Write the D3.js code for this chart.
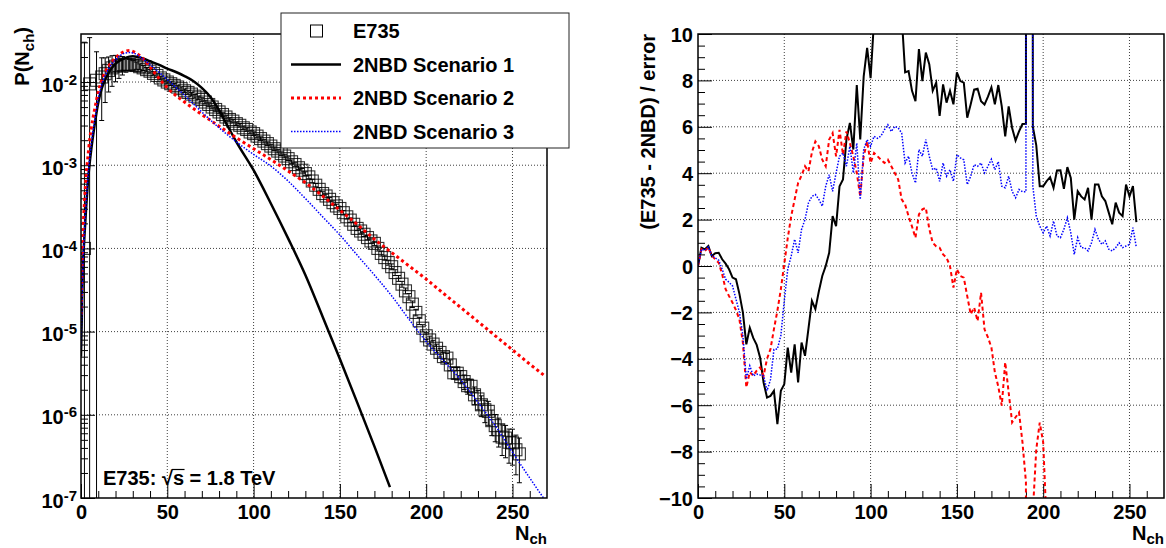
<!DOCTYPE html>
<html><head><meta charset="utf-8">
<script src="https://cdn.jsdelivr.net/npm/d3@7"></script>
<style>
html,body{margin:0;padding:0;background:#fff;}
svg{display:block;}
text{font-family:"Liberation Sans",Arial,Helvetica,sans-serif;font-weight:bold;fill:#000;}
</style></head><body>
<svg id="c" width="1166" height="548"></svg>
<script>
// ---------- Left panel: E735 data ----------
const e735N = [2,5,9,12,14,16,18,20,22,24,26,28,30,32,34,36,38,40,42,44,46,48,50,52,54,56,58,60,62,64,66,68,70,72,74,76,78,80,82,84,86,88,90,92,94,96,98,100,102,104,106,108,110,112,114,116,118,120,122,124,126,128,130,132,134,136,138,140,142,144,146,148,150,152,154,156,158,160,162,164,166,168,170,172,174,176,178,180,182,184,186,188,190,192,194,196,198,200,202,204,206,208,210,212,214,216,218,220,222,224,226,228,230,232,234,236,238,240,242,244,246,248,250,252,254];
const e735P = [
 1.0e-4, 9.5e-3, 1.05e-2, 1.15e-2, 1.26e-2, 1.38e-2, 1.48e-2, 1.55e-2, 1.58e-2, 1.62e-2,
 1.64e-2, 1.62e-2, 1.60e-2, 1.58e-2, 1.53e-2, 1.48e-2, 1.41e-2, 1.35e-2, 1.27e-2, 1.20e-2,
 1.12e-2, 1.06e-2, 1.00e-2, 9.55e-3, 9.12e-3, 8.71e-3, 8.32e-3, 7.85e-3, 7.50e-3, 7.16e-3,
 6.76e-3, 6.46e-3, 6.17e-3, 5.75e-3, 5.37e-3, 5.01e-3, 4.68e-3, 4.37e-3, 4.07e-3, 3.80e-3,
 3.55e-3, 3.39e-3, 3.16e-3, 3.02e-3, 2.82e-3, 2.69e-3, 2.51e-3, 2.40e-3, 2.24e-3, 2.09e-3,
 1.95e-3, 1.82e-3, 1.70e-3, 1.58e-3, 1.48e-3, 1.38e-3, 1.29e-3, 1.20e-3, 1.10e-3, 1.02e-3,
 9.33e-4, 8.71e-4, 7.94e-4, 7.24e-4, 6.46e-4, 5.75e-4, 5.13e-4, 4.57e-4, 4.27e-4, 3.89e-4,
 3.55e-4, 3.24e-4, 3.02e-4, 2.69e-4, 2.40e-4, 2.19e-4, 1.95e-4, 1.74e-4, 1.62e-4, 1.48e-4,
 1.35e-4, 1.23e-4, 1.15e-4, 1.00e-4, 8.71e-5, 7.76e-5, 6.76e-5, 6.03e-5, 5.13e-5, 4.37e-5,
 3.72e-5, 3.09e-5, 2.63e-5, 2.14e-5, 1.70e-5, 1.35e-5, 1.10e-5, 8.91e-6, 7.94e-6, 7.08e-6,
 6.31e-6, 5.62e-6, 5.01e-6, 4.80e-6, 3.98e-6, 3.20e-6, 3.16e-6, 2.88e-6, 2.51e-6, 2.24e-6,
 2.20e-6, 1.74e-6, 1.55e-6, 1.32e-6, 1.15e-6, 1.10e-6, 8.51e-7, 7.41e-7, 6.61e-7, 5.40e-7,
 5.25e-7, 4.68e-7, 4.60e-7, 3.80e-7, 3.39e-7];
const e735RelErr = [
 300, 2.6, 1.2, 0.7, 0.55, 0.45, 0.4, 0.35, 0.3, 0.25,
 0.2, 0.16, 0.13, 0.1, 0.08, 0.07, 0.06, 0.05, 0.05, 0.05,
 0.05, 0.05, 0.05, 0.05, 0.05, 0.05, 0.05, 0.05, 0.05, 0.05,
 0.05, 0.05, 0.05, 0.05, 0.05, 0.05, 0.05, 0.05, 0.05, 0.05,
 0.05, 0.05, 0.05, 0.05, 0.05, 0.05, 0.05, 0.05, 0.05, 0.05,
 0.05, 0.05, 0.05, 0.05, 0.05, 0.05, 0.05, 0.05, 0.05, 0.05,
 0.05, 0.05, 0.05, 0.05, 0.05, 0.05, 0.05, 0.05, 0.05, 0.05,
 0.05, 0.05, 0.05, 0.06, 0.06, 0.06, 0.06, 0.06, 0.06, 0.06,
 0.06, 0.06, 0.06, 0.07, 0.07, 0.07, 0.07, 0.08, 0.08, 0.08,
 0.08, 0.08, 0.09, 0.09, 0.09, 0.1, 0.1, 0.1, 0.11, 0.11,
 0.12, 0.12, 0.13, 0.14, 0.15, 0.16, 0.17, 0.18, 0.2, 0.21,
 0.22, 0.24, 0.26, 0.28, 0.3, 0.32, 0.34, 0.36, 0.38, 0.4,
 0.42, 0.44, 0.46, 0.5, 0.55];

// ---------- Left panel: 2NBD model curves ----------
const s1N = [0,1,2,3,4,5,6,8,10,12,14,16,20,25,28,30,35,40,45,50,55,60,65,70,75,80,85,90,100,110,120,130,140,150,160,170,179];
const s1P = [5.01e-6,5.01e-5,1.41e-4,3.16e-4,6.31e-4,1.05e-3,1.58e-3,3.16e-3,5.62e-3,8.32e-3,1.07e-2,1.29e-2,1.66e-2,1.93e-2,2.02e-2,2.04e-2,1.95e-2,1.78e-2,1.62e-2,1.45e-2,1.32e-2,1.18e-2,1.03e-2,8.51e-3,6.61e-3,4.57e-3,2.95e-3,1.91e-3,8.71e-4,3.47e-4,1.32e-4,4.79e-5,1.51e-5,4.68e-6,1.41e-6,4.17e-7,1.35e-7];
const s2N = [0,1,2,3,4,5,6,8,10,12,14,16,20,25,28,30,35,40,45,50,60,70,80,90,100,110,120,130,140,150,160,170,180,190,200,210,220,230,240,250,260,268];
const s2P = [1.58e-5,1.26e-4,3.55e-4,7.59e-4,1.26e-3,2.00e-3,2.82e-3,4.79e-3,7.59e-3,1.05e-2,1.32e-2,1.55e-2,1.95e-2,2.32e-2,2.40e-2,2.34e-2,2.00e-2,1.51e-2,1.12e-2,8.51e-3,5.75e-3,4.07e-3,2.95e-3,2.14e-3,1.58e-3,1.17e-3,8.51e-4,6.17e-4,4.27e-4,2.88e-4,1.95e-4,1.29e-4,8.91e-5,6.17e-5,4.27e-5,2.88e-5,1.95e-5,1.32e-5,8.91e-6,6.03e-6,4.07e-6,3.02e-6];
const s3N = [0,1,2,3,4,5,6,8,10,12,14,16,20,25,28,30,35,40,45,50,60,70,80,90,100,110,120,130,140,150,160,170,180,190,200,210,220,230,240,250,260,270];
const s3P = [6.31e-6,5.01e-5,1.58e-4,3.55e-4,7.08e-4,1.20e-3,1.82e-3,3.55e-3,6.31e-3,9.33e-3,1.20e-2,1.45e-2,1.86e-2,2.21e-2,2.26e-2,2.24e-2,1.95e-2,1.62e-2,1.32e-2,1.07e-2,6.92e-3,4.37e-3,2.82e-3,1.91e-3,1.35e-3,9.77e-4,6.46e-4,3.98e-4,2.40e-4,1.45e-4,8.32e-5,4.79e-5,2.69e-5,1.41e-5,7.59e-6,4.47e-6,2.63e-6,1.41e-6,7.41e-7,3.55e-7,1.74e-7,8.71e-8];

// ---------- Right panel: (E735 - 2NBD)/error ----------
const resN = d3.range(0, 255, 2); // N = 0,2,...,254 (bin centres)
const res1 = [
 0, 0.79, 0.72, 0.86, 0.43, 0.55, 0.57, 0.29, 0.10, -0.14,
 -0.50, -0.57, -1.20, -2.00, -3.38, -2.66, -3.10, -3.40, -3.95, -5.02,
 -5.67, -5.60, -5.38, -6.82, -5.38, -5.09, -3.52, -4.60, -3.38, -5.02,
 -3.30, -3.87, -2.70, -1.50, -1.86, -1.10, -0.43, 0.00, 0.57, 2.15,
 1.72, 3.44, 3.73, 5.45, 6.17, 5.02, 7.80, 5.45, 8.17, 9.40,
 8.10, 10.6, 11.8, 12.5, 13.1, 12.4, 12.9, 11.9, 12.2, 10.8,
 8.35, 8.40, 7.55, 7.10, 9.35, 7.97, 9.20, 8.70, 7.55, 7.90,
 6.47, 7.83, 7.04, 7.55, 6.97, 8.35, 7.97, 7.90, 6.39, 6.97,
 7.60, 7.64, 7.10, 6.96, 7.30, 7.70, 6.97, 7.80, 6.88, 5.59,
 6.88, 5.95, 5.41, 5.80, 6.12, 6.13, 300, 6.00, 5.20, 3.44,
 3.44, 3.66, 3.83, 3.37, 4.12, 4.13, 3.33, 4.26, 3.80, 2.00,
 3.22, 3.00, 2.87, 3.37, 2.00, 3.51, 3.51, 3.00, 2.80, 2.30,
 1.80, 2.73, 2.30, 2.15, 3.51, 3.00, 3.44, 1.89];
const res2 = [
 0, 0.72, 0.65, 0.79, 0.45, 0.29, 0.14, -0.35, -1.0, -1.3,
 -1.58, -1.9, -2.3, -3.3, -5.23, -4.58, -4.73, -4.51, -4.37, -4.73,
 -4.0, -3.58, -2.72, -1.93, -1.0, 0.1, 1.2, 2.15, 2.87, 3.58,
 3.9, 4.3, 4.08, 4.9, 5.37, 5.16, 4.58, 4.3, 5.45, 5.73,
 4.73, 5.87, 4.8, 5.8, 5.3, 4.73, 4.01, 3.0, 4.73, 5.37,
 4.44, 4.87, 4.73, 4.58, 4.44, 4.58, 4.3, 4.01, 3.73, 2.87,
 2.65, 2.15, 1.7, 1.22, 2.22, 2.44, 2.51, 1.6, 1.0, 0.85,
 0.79, 0.5, 0.36, 0.0, -0.93, -0.14, -0.43, -0.5, -1.3, -2.08,
 -1.79, -2.37, -1.15, -2.73, -3.08, -3.51, -4.58, -5.2, -6.02, -4.15,
 -5.45, -6.74, -6.52, -6.31, -7.6, -9.3, -300, -10.6, -7.9, -6.75,
 -7.6, -11.2, -12.5, -13.4, -12.9, -14.1, -15.0, -14.2, -16.3, -17.8,
 -16.9, -17.5, -18.2, -17.6, -19.4, -18.8, -19.1, -20.0, -20.6, -21.4,
 -22.3, -21.2, -21.9, -22.4, -20.7, -21.5, -20.9, -22.6];
const res3 = [
 0, 0.72, 0.68, 0.82, 0.45, 0.35, 0.25, -0.14, -0.57, -0.7,
 -0.86, -1.43, -2.0, -3.0, -4.87, -4.3, -4.73, -4.66, -4.7, -4.73,
 -5.37, -4.9, -3.6, -3.58, -3.0, -1.5, -0.14, 0.43, 1.15, 0.57,
 1.58, 2.0, 2.72, 3.0, 3.08, 2.87, 2.58, 3.44, 3.94, 3.22,
 4.01, 4.73, 4.87, 4.3, 5.16, 4.01, 5.3, 2.87, 5.02, 5.45,
 5.16, 5.59, 5.5, 5.6, 5.87, 6.09, 5.8, 6.02, 5.95, 5.73,
 4.44, 4.73, 4.01, 3.58, 5.02, 4.73, 5.45, 4.73, 4.15, 4.22,
 3.65, 4.44, 3.87, 4.15, 3.65, 4.8, 4.66, 4.58, 3.51, 3.87,
 4.37, 4.3, 4.44, 4.01, 4.3, 4.6, 4.15, 4.5, 3.44, 3.37,
 3.87, 3.22, 2.94, 3.3, 3.2, 3.2, 300, 3.44, 2.15, 1.72,
 1.43, 1.72, 1.29, 1.94, 1.29, 1.22, 1.58, 2.08, 1.43, 0.5,
 1.22, 0.79, 0.79, 0.65, 1.0, 1.58, 1.15, 0.93, 1.08, 0.72,
 0.65, 0.79, 1.0, 0.79, 0.86, 0.93, 1.65, 0.79];

// ---------- tick values / labels ----------
const xMajor = [0, 50, 100, 150, 200, 250];
const xMinor = [10,20,30,40,60,70,80,90,110,120,130,140,160,170,180,190,210,220,230,240,260];
const yLogMajor = [1e-7, 1e-6, 1e-5, 1e-4, 1e-3, 1e-2];
const yResMajor = [-10,-8,-6,-4,-2,0,2,4,6,8,10];
const legendLabels = ["E735", "2NBD Scenario 1", "2NBD Scenario 2", "2NBD Scenario 3"];

// ---------- drawing ----------
const FS = 20, FSS = 15;
const svg = d3.select("#c");
const L = {x0:81, x1:547, y0:34, y1:498};
const R = {x0:698, x1:1164, y0:34, y1:498};

const xL = d3.scaleLinear().domain([0,270]).range([L.x0, L.x1]);
const yL = d3.scaleLog().domain([1e-7, 0.0378]).range([L.y1, L.y0]);
const xR = d3.scaleLinear().domain([0,270]).range([R.x0, R.x1]);
const yR = d3.scaleLinear().domain([-10,10]).range([R.y1, R.y0]);

const defs = svg.append("defs");
defs.append("clipPath").attr("id","clipL").append("rect").attr("x",L.x0).attr("y",L.y0).attr("width",L.x1-L.x0).attr("height",L.y1-L.y0);
defs.append("clipPath").attr("id","clipR").append("rect").attr("x",R.x0).attr("y",R.y0).attr("width",R.x1-R.x0).attr("height",R.y1-R.y0);

function styleAxis(g){ g.attr("font-family", null).attr("font-size", FS); g.select(".domain").remove(); }

// minor ticks
const yLogMinor = [];
for (let e=-7; e<=-2; e++) for (let m=2; m<=9; m++) { const v=m*Math.pow(10,e); if (v<0.0378) yLogMinor.push(v); }
const yResMinor = d3.range(-10, 10.01, 0.5).filter(v => Math.abs(v % 2) > 1e-9);

// grids
const gridStyle = g => g.attr("stroke","#000").attr("stroke-width",1).attr("stroke-dasharray","1,2").attr("opacity",0.75);
svg.append("g").call(gridStyle).selectAll("line").data(xMajor.filter(v=>v>0)).join("line")
  .attr("x1",d=>xL(d)).attr("x2",d=>xL(d)).attr("y1",L.y0).attr("y2",L.y1);
svg.append("g").call(gridStyle).selectAll("line").data(yLogMajor.filter(v=>v>1e-7)).join("line")
  .attr("x1",L.x0).attr("x2",L.x1).attr("y1",d=>yL(d)).attr("y2",d=>yL(d));
svg.append("g").call(gridStyle).selectAll("line").data(xMajor.filter(v=>v>0)).join("line")
  .attr("x1",d=>xR(d)).attr("x2",d=>xR(d)).attr("y1",R.y0).attr("y2",R.y1);
svg.append("g").call(gridStyle).selectAll("line").data(yResMajor.filter(v=>v>-10&&v<10)).join("line")
  .attr("x1",R.x0).attr("x2",R.x1).attr("y1",d=>yR(d)).attr("y2",d=>yR(d));

// x axes
function xAxes(x, y1){
  const gM = svg.append("g").attr("transform",`translate(0,${y1})`)
    .call(d3.axisBottom(x).tickValues(xMajor).tickSizeInner(-14).tickSizeOuter(0).tickPadding(6).tickFormat(d3.format("d")));
  styleAxis(gM);
  gM.selectAll(".tick text").attr("dy","14.5px");
  const gm = svg.append("g").attr("transform",`translate(0,${y1})`)
    .call(d3.axisBottom(x).tickValues(xMinor).tickSizeInner(-7).tickSizeOuter(0).tickFormat(()=>""));
  styleAxis(gm);
}
xAxes(xL, L.y1);
xAxes(xR, R.y1);

// left log y axis
const gyL = svg.append("g").attr("transform",`translate(${L.x0},0)`)
  .call(d3.axisLeft(yL).tickValues(yLogMajor).tickSizeInner(-14).tickSizeOuter(0).tickPadding(4));
styleAxis(gyL);
gyL.selectAll(".tick text").attr("dy","9px").each(function(d){
  const t = d3.select(this); const e = Math.round(Math.log10(d));
  t.text(null);
  t.append("tspan").text("10");
  t.append("tspan").attr("dy",-7).attr("font-size",FSS).text(String(e));
});
const gyLm = svg.append("g").attr("transform",`translate(${L.x0},0)`)
  .call(d3.axisLeft(yL).tickValues(yLogMinor).tickSizeInner(-7).tickSizeOuter(0).tickFormat(()=>""));
styleAxis(gyLm);

// right linear y axis
const gyR = svg.append("g").attr("transform",`translate(${R.x0},0)`)
  .call(d3.axisLeft(yR).tickValues(yResMajor).tickSizeInner(-14).tickSizeOuter(0).tickPadding(5).tickFormat(d3.format("d")));
styleAxis(gyR);
gyR.selectAll(".tick text").attr("dy","7px");
const gyRm = svg.append("g").attr("transform",`translate(${R.x0},0)`)
  .call(d3.axisLeft(yR).tickValues(yResMinor).tickSizeInner(-7).tickSizeOuter(0).tickFormat(()=>""));
styleAxis(gyRm);

// ---- left data ----
const dataL = e735N.map((n,i)=>({n, p:e735P[i], e:e735RelErr[i]*e735P[i]}));
const gData = svg.append("g").attr("clip-path","url(#clipL)");
gData.selectAll("line.err").data(dataL).join("line").attr("class","err")
  .attr("x1",d=>xL(d.n)).attr("x2",d=>xL(d.n))
  .attr("y1",d=>yL(d.p+d.e)).attr("y2",d=> d.p-d.e>0 ? yL(d.p-d.e) : L.y1+10)
  .attr("stroke","#000").attr("stroke-width",1);
gData.selectAll("line.capt").data(dataL).join("line").attr("class","capt")
  .attr("x1",d=>xL(d.n)-2.5).attr("x2",d=>xL(d.n)+2.5)
  .attr("y1",d=>yL(d.p+d.e)).attr("y2",d=>yL(d.p+d.e)).attr("stroke","#000");
gData.selectAll("line.capb").data(dataL.filter(d=>d.p-d.e>0)).join("line").attr("class","capb")
  .attr("x1",d=>xL(d.n)-2.5).attr("x2",d=>xL(d.n)+2.5)
  .attr("y1",d=>yL(d.p-d.e)).attr("y2",d=>yL(d.p-d.e)).attr("stroke","#000");
gData.selectAll("rect.pt").data(dataL).join("rect").attr("class","pt")
  .attr("x",d=>xL(d.n)-6).attr("y",d=>yL(d.p)-6).attr("width",12).attr("height",12)
  .attr("fill","none").attr("stroke","#000").attr("stroke-width",1.1).attr("stroke-opacity",0.8);

// ---- left curves ----
const lineL = d3.line().x(d=>xL(d[0])).y(d=>yL(d[1])).curve(d3.curveMonotoneX);
const gCurv = svg.append("g").attr("clip-path","url(#clipL)").attr("fill","none");
gCurv.append("path").attr("d", lineL(s1N.map((n,i)=>[n,s1P[i]]))).attr("stroke","#000").attr("stroke-width",2.5);
gCurv.append("path").attr("d", lineL(s2N.map((n,i)=>[n,s2P[i]]))).attr("stroke","#f00").attr("stroke-width",3).attr("stroke-dasharray","3,3");
gCurv.append("path").attr("d", lineL(s3N.map((n,i)=>[n,s3P[i]]))).attr("stroke","#00f").attr("stroke-width",1.5).attr("stroke-dasharray","1.5,1.5");

// ---- right residual curves ----
const lineR = d3.line().x(d=>xR(d[0])).y(d=>yR(d[1]));
const gRes = svg.append("g").attr("clip-path","url(#clipR)").attr("fill","none");
gRes.append("path").attr("d", lineR(resN.map((n,i)=>[n,res1[i]]))).attr("stroke","#000").attr("stroke-width",2);
gRes.append("path").attr("d", lineR(resN.map((n,i)=>[n,res2[i]]))).attr("stroke","#f00").attr("stroke-width",2).attr("stroke-dasharray","4,3");
gRes.append("path").attr("d", lineR(resN.map((n,i)=>[n,res3[i]]))).attr("stroke","#00f").attr("stroke-width",1.5).attr("stroke-dasharray","1.5,1.5");

// frames
[L,R].forEach(f => svg.append("rect").attr("x",f.x0).attr("y",f.y0).attr("width",f.x1-f.x0).attr("height",f.y1-f.y0)
  .attr("fill","none").attr("stroke","#000").attr("stroke-width",1.5));

// axis titles
const tL = svg.append("text").attr("transform","translate(29,27) rotate(-90)").attr("text-anchor","end").attr("font-size",FS);
tL.append("tspan").text("P(N");
tL.append("tspan").attr("dy",5).attr("font-size",FSS).text("ch");
tL.append("tspan").attr("dy",-5).text(")");
svg.append("text").attr("transform","translate(655,34) rotate(-90)").attr("text-anchor","end").attr("font-size",FS)
  .text("(E735 - 2NBD) / error");
[[L.x1,540],[R.x1,540]].forEach(([x,y])=>{
  const t = svg.append("text").attr("x",x).attr("y",y).attr("text-anchor","end").attr("font-size",FS);
  t.append("tspan").text("N");
  t.append("tspan").attr("dy",4).attr("font-size",FSS).text("ch");
});

// energy label
const eTxt = svg.append("text").attr("x",103).attr("y",485).attr("font-size",FS);
eTxt.append("tspan").text("E735: \u221A");
eTxt.append("tspan").text("s");
eTxt.append("tspan").text(" = 1.8 TeV");
try {
  const n0 = "E735: \u221A".length;
  const sx = eTxt.node().getStartPositionOfChar(n0).x;
  const sw = eTxt.node().getSubStringLength(n0, 1);
  const rx = eTxt.node().getStartPositionOfChar(n0-1).x;
  const rw = eTxt.node().getSubStringLength(n0-1,1);
  svg.append("line").attr("x1", rx+rw-1).attr("x2", sx+sw+0.5).attr("y1",469.5).attr("y2",469.5)
    .attr("stroke","#000").attr("stroke-width",1.2);
} catch(e) {}

// legend
const leg = svg.append("g");
leg.append("rect").attr("x",281).attr("y",13).attr("width",288).attr("height",135)
  .attr("fill","#fff").attr("stroke","#222").attr("stroke-width",1);
const legY = [31, 64.5, 98, 131.5];
leg.append("rect").attr("x",310.5).attr("y",legY[0]-6).attr("width",12).attr("height",12)
  .attr("fill","none").attr("stroke","#000").attr("stroke-width",1);
leg.append("line").attr("x1",291).attr("x2",341).attr("y1",legY[1]).attr("y2",legY[1]).attr("stroke","#000").attr("stroke-width",2.5);
leg.append("line").attr("x1",291).attr("x2",341).attr("y1",legY[2]).attr("y2",legY[2]).attr("stroke","#f00").attr("stroke-width",3).attr("stroke-dasharray","3,3");
leg.append("line").attr("x1",291).attr("x2",341).attr("y1",legY[3]).attr("y2",legY[3]).attr("stroke","#00f").attr("stroke-width",1.5).attr("stroke-dasharray","1.5,1.5");
leg.selectAll("text").data(legendLabels).join("text")
  .attr("x",353).attr("y",(d,i)=>legY[i]+7).attr("font-size",FS).text(d=>d);
</script>
</body></html>
